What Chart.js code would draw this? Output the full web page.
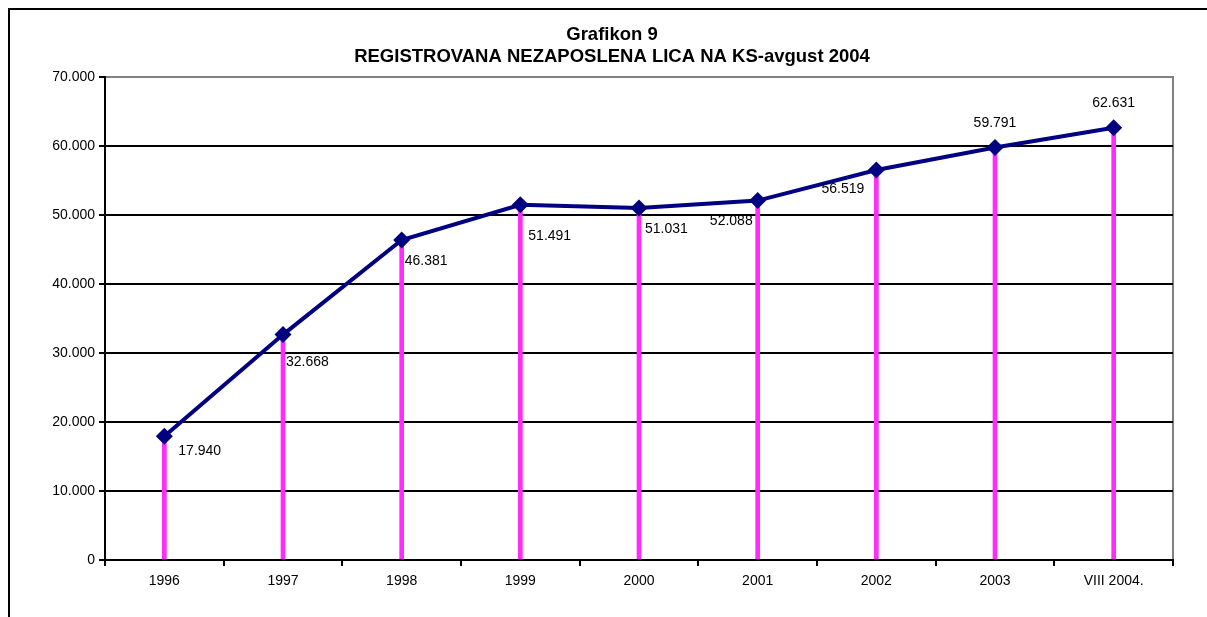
<!DOCTYPE html>
<html>
<head>
<meta charset="utf-8">
<title>Grafikon 9</title>
<script src="https://cdn.jsdelivr.net/npm/chart.js@4.4.1/dist/chart.umd.min.js"></script>
<style>
    html, body { margin: 0; padding: 0; background: #fff; }
    canvas { display: block; }
</style>
</head>
<body>
<canvas id="chart" width="1207" height="617"></canvas>
<script>
// Data
const years = ['1996', '1997', '1998', '1999', '2000', '2001', '2002', '2003', 'VIII 2004.'];
const unemployed = [17940, 32668, 46381, 51491, 51031, 52088, 56519, 59791, 62631];
const yTicks = [0, 10000, 20000, 30000, 40000, 50000, 60000, 70000];
const titleLines = ['Grafikon 9', 'REGISTROVANA NEZAPOSLENA LICA NA KS-avgust 2004'];

// Where each value label sits relative to its point (layout only)
const labelPlacement = [
    { dx: 14, dy: 15, align: 'left' },
    { dx: 3, dy: 28, align: 'left' },
    { dx: 3, dy: 21, align: 'left' },
    { dx: 8, dy: 31, align: 'left' },
    { dx: 6, dy: 21, align: 'left' },
    { dx: -5, dy: 21, align: 'right' },
    { dx: -12, dy: 19, align: 'right' },
    { dx: 0, dy: -24, align: 'center' },
    { dx: 0, dy: -25, align: 'center' }
];

const FONT = '"Liberation Sans", Arial, Helvetica, sans-serif';

// Thousands with a dot, like 62.631
function formatNumber(v) {
    return String(Math.round(v)).replace(/\B(?=(\d{3})+(?!\d))/g, '.');
}

// Outer frame (top + left only) and grey plot border
const framePlugin = {
    id: 'frame',
    beforeDraw(chart) {
        const ctx = chart.ctx;
        const a = chart.chartArea;
        ctx.save();
        ctx.strokeStyle = '#000';
        ctx.lineWidth = 2;
        ctx.beginPath();
        ctx.moveTo(9, chart.height);
        ctx.lineTo(9, 9);
        ctx.lineTo(chart.width, 9);
        ctx.stroke();
        ctx.strokeStyle = '#808080';
        ctx.strokeRect(a.left, a.top, a.right - a.left, a.bottom - a.top);
        ctx.restore();
    }
};

// Value labels next to the points
const valueLabels = {
    id: 'valueLabels',
    afterDatasetsDraw(chart) {
        const ctx = chart.ctx;
        const meta = chart.getDatasetMeta(0);
        ctx.save();
        ctx.font = '14px ' + FONT;
        ctx.fillStyle = '#000';
        ctx.textBaseline = 'middle';
        meta.data.forEach((pt, i) => {
            const p = labelPlacement[i];
            ctx.textAlign = p.align;
            ctx.fillText(formatNumber(unemployed[i]), pt.x + p.dx, pt.y + p.dy);
        });
        ctx.restore();
    }
};

const ctx = document.getElementById('chart').getContext('2d');

new Chart(ctx, {
    type: 'bar',
    data: {
        labels: years,
        datasets: [
            {
                type: 'line',
                label: 'Nezaposleni',
                data: unemployed,
                borderColor: '#000080',
                borderWidth: 4,
                backgroundColor: '#000080',
                pointStyle: 'rectRot',
                pointRadius: 8.5,
                pointBorderWidth: 0,
                pointBackgroundColor: '#000080',
                tension: 0,
                order: 0
            },
            {
                type: 'bar',
                label: 'drop',
                data: unemployed,
                backgroundColor: '#ff2bff',
                barThickness: 4,
                borderWidth: 0,
                order: 1
            }
        ]
    },
    options: {
        responsive: false,
        animation: false,
        events: [],
        layout: {
            padding: { left: 51, right: 34, top: 0, bottom: 0 }
        },
        plugins: {
            legend: { display: false },
            tooltip: { enabled: false },
            title: {
                display: true,
                text: titleLines,
                color: '#000',
                font: { family: FONT, size: 18.5, weight: 'bold', lineHeight: 1.2 },
                padding: { top: 24, bottom: 8.6 }
            }
        },
        scales: {
            x: {
                offset: true,
                afterFit(scale) { scale.height = 57; },
                border: { display: true, color: '#000', width: 2 },
                grid: {
                    display: true,
                    offset: true,
                    drawOnChartArea: false,
                    drawTicks: true,
                    tickLength: 6,
                    color: '#000',
                    lineWidth: 2
                },
                ticks: {
                    color: '#000',
                    padding: 7,
                    maxRotation: 0,
                    font: { family: FONT, size: 14 }
                }
            },
            y: {
                min: 0,
                max: 70000,
                afterFit(scale) { scale.width = 54; },
                afterBuildTicks(scale) {
                    scale.ticks = yTicks.map(v => ({ value: v }));
                },
                border: { display: true, color: '#000', width: 2 },
                grid: {
                    color: c => (c.tick && c.tick.value === 70000 ? '#808080' : '#000'),
                    tickColor: '#000',
                    lineWidth: 2,
                    tickLength: 6
                },
                ticks: {
                    color: '#000',
                    padding: 4,
                    font: { family: FONT, size: 14 },
                    callback: v => formatNumber(v)
                }
            }
        }
    },
    plugins: [framePlugin, valueLabels]
});
</script>
</body>
</html>
